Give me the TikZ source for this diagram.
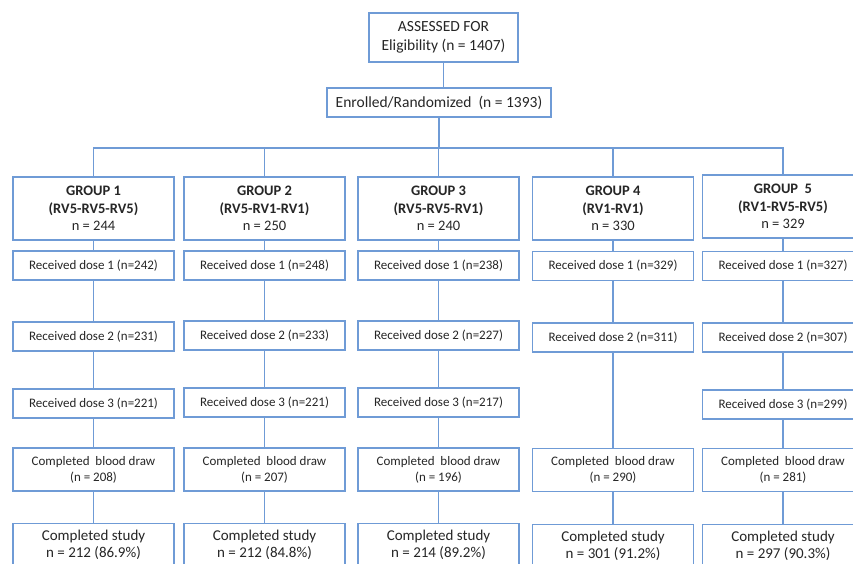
\documentclass[tikz,border=0pt]{standalone}
\usepackage{fontspec}
\setmainfont{Carlito}
\usetikzlibrary{positioning}
\definecolor{boxblue}{HTML}{6F9BD6}
\definecolor{txt}{HTML}{262626}
\tikzset{
  box/.style={draw=boxblue,line width=1.2pt,fill=white,text=txt,shape=rectangle,align=center,inner sep=0pt,minimum width=161pt},
  grp/.style={box,minimum height=63pt,font=\fontsize{14.5}{17.5}\selectfont},
  dose/.style={box,minimum height=29pt,font=\fontsize{13}{16}\selectfont},
  blood/.style={box,minimum height=43pt,font=\fontsize{13}{16}\selectfont},
  study/.style={box,minimum height=43pt,font=\fontsize{15}{17.5}\selectfont},
  link/.style={draw=boxblue,line width=1.2pt}
}
\begin{document}
\begin{tikzpicture}[x=1pt,y=-1pt]
\useasboundingbox (0,0) rectangle (853,563);
\clip (0,0) rectangle (853,563);
% top of the chart
\node[box,minimum width=149pt,minimum height=49pt,font=\fontsize{15.5}{19}\selectfont](assess) at (443.5,37.5){ASSESSED FOR\\Eligibility (n = 1407)};
\node[box,minimum width=224pt,minimum height=29pt,font=\fontsize{15.5}{19}\selectfont](enrol) at (439,102.5){Enrolled/Randomized~ (n = 1393)};
\coordinate (branch) at (439,148);
% groups
\node[grp](g1) at (93.5,208.5){\textbf{GROUP 1}\\\textbf{(RV5-RV5-RV5)}\\n = 244};
\node[grp](g2) at (264.5,208.5){\textbf{GROUP 2}\\\textbf{(RV5-RV1-RV1)}\\n = 250};
\node[grp](g3) at (438.5,208.5){\textbf{GROUP 3}\\\textbf{(RV5-RV5-RV1)}\\n = 240};
\node[grp](g4) at (613,208.5){\textbf{GROUP 4}\\\textbf{(RV1-RV1)}\\n = 330};
\node[grp](g5) at (783,206.5){\textbf{GROUP~ 5}\\\textbf{(RV1-RV5-RV5)}\\n = 329};
% dose 1
\node[dose](d11) at (93.5,265.5){Received dose 1 (n=242)};
\node[dose](d21) at (264.5,265.5){Received dose 1 (n=248)};
\node[dose](d31) at (438.5,265.5){Received dose 1 (n=238)};
\node[dose](d41) at (613,266){Received dose 1 (n=329)};
\node[dose](d51) at (783,266){Received dose 1 (n=327)};
% dose 2
\node[dose](d12) at (93.5,336.5){Received dose 2 (n=231)};
\node[dose](d22) at (264.5,335.5){Received dose 2 (n=233)};
\node[dose](d32) at (438.5,335.5){Received dose 2 (n=227)};
\node[dose](d42) at (613,337.5){Received dose 2 (n=311)};
\node[dose](d52) at (783,337.5){Received dose 2 (n=307)};
% dose 3
\node[dose](d13) at (93.5,403.5){Received dose 3 (n=221)};
\node[dose](d23) at (264.5,402.5){Received dose 3 (n=221)};
\node[dose](d33) at (438.5,402.5){Received dose 3 (n=217)};
\node[dose](d53) at (783,404.5){Received dose 3 (n=299)};
% blood draw
\node[blood](b1) at (93.5,469.5){Completed~ blood draw\\(n = 208)};
\node[blood](b2) at (264.5,469.5){Completed~ blood draw\\(n = 207)};
\node[blood](b3) at (438.5,469.5){Completed~ blood draw\\(n = 196)};
\node[blood](b4) at (613,470){Completed~ blood draw\\(n = 290)};
\node[blood](b5) at (783,470){Completed~ blood draw\\(n = 281)};
% completed study
\node[study](s1) at (93.5,545){Completed study\\n = 212 (86.9\%)};
\node[study](s2) at (264.5,545){Completed study\\n = 212 (84.8\%)};
\node[study](s3) at (438.5,545){Completed study\\n = 214 (89.2\%)};
\node[study](s4) at (613,546){Completed study\\n = 301 (91.2\%)};
\node[study](s5) at (783,546){Completed study\\n = 297 (90.3\%)};
% connectors
\draw[link] (assess.south) -- (assess.south|-enrol.north);
\draw[link] (enrol.south) -- (branch);
\draw[link] (g1.north) -- (g1.north|-branch) -- (g5.north|-branch) -- (g5.north);
\draw[link] (g2.north) -- (g2.north|-branch);
\draw[link] (g3.north) -- (g3.north|-branch);
\draw[link] (g4.north) -- (g4.north|-branch);
\draw[link] (g1) -- (d11) (d11) -- (d12) (d12) -- (d13) (d13) -- (b1) (b1) -- (s1);
\draw[link] (g2) -- (d21) (d21) -- (d22) (d22) -- (d23) (d23) -- (b2) (b2) -- (s2);
\draw[link] (g3) -- (d31) (d31) -- (d32) (d32) -- (d33) (d33) -- (b3) (b3) -- (s3);
\draw[link] (g4) -- (d41) (d41) -- (d42) (d42) -- (b4) (b4) -- (s4);
\draw[link] (g5) -- (d51) (d51) -- (d52) (d52) -- (d53) (d53) -- (b5) (b5) -- (s5);
\end{tikzpicture}
\end{document}
